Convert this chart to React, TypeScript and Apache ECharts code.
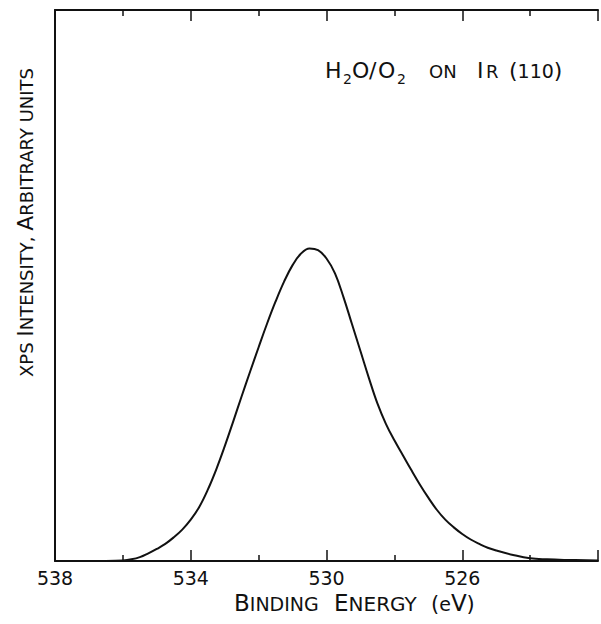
import React, { useEffect, useRef } from "react";
import * as echarts from "echarts";

// Binding energy (eV), read at regular steps from the reference curve
const energies = [
  536.5, 536.0, 535.75, 535.5, 535.25, 535.0, 534.75, 534.5, 534.25, 534.0,
  533.75, 533.5, 533.25, 533.0, 532.75, 532.5, 532.25, 532.0, 531.75, 531.5,
  531.25, 531.0, 530.75, 530.5, 530.25, 530.0, 529.75, 529.5, 529.25, 529.0,
  528.75, 528.5, 528.25, 528.0, 527.75, 527.5, 527.25, 527.0, 526.75, 526.5,
  526.25, 526.0, 525.75, 525.5, 525.25, 525.0, 524.5, 524.0, 523.5, 523.0,
  522.0,
];
// XPS intensity (arbitrary units, 0..100 of the frame height)
const intensities = [
  0, 0.1, 0.3, 0.7, 1.4, 2.2, 3.1, 4.3, 5.7, 7.5,
  9.8, 12.9, 16.6, 20.8, 25.3, 29.9, 34.4, 38.8, 43.1, 47.1,
  50.7, 53.7, 55.8, 56.7, 56.4, 54.9, 52.2, 47.9, 43.0, 38.1,
  33.2, 28.6, 24.9, 21.9, 19.2, 16.5, 13.9, 11.5, 9.3, 7.5,
  6.1, 4.9, 3.9, 3.1, 2.4, 1.9, 1.1, 0.5, 0.3, 0.2,
  0.1,
];
const xTickLabels = [538, 534, 530, 526];

const FONT = "DejaVu Sans";
const INK = "#111111";

type Run = { t: string; s: number; dy?: number; x?: number };

let measureCtx: CanvasRenderingContext2D | null = null;
function textWidth(t: string, s: number): number {
  if (!measureCtx) measureCtx = document.createElement("canvas").getContext("2d");
  if (!measureCtx) return t.length * s * 0.6;
  measureCtx.font = `${s}px "${FONT}"`;
  return measureCtx.measureText(t).width;
}

function runsToTexts(runs: Run[], x0: number, baseline: number): any[] {
  let x = x0;
  const out: any[] = [];
  for (const r of runs) {
    if (r.x !== undefined) x = r.x;
    const by = baseline + (r.dy || 0);
    out.push({
      type: "text",
      x,
      y: by - 0.35 * r.s,
      silent: true,
      style: {
        text: r.t,
        fontSize: r.s,
        fontFamily: FONT,
        fill: INK,
        align: "left",
        verticalAlign: "middle",
      },
    });
    x += textWidth(r.t, r.s);
  }
  return out;
}

const annotationRuns: Run[] = [
  { t: "H", s: 22, x: 325 },
  { t: "2", s: 14, dy: 6, x: 343 },
  { t: "O", s: 22, x: 352 },
  { t: "/", s: 22, x: 369 },
  { t: "O", s: 22, x: 378 },
  { t: "2", s: 14, dy: 6, x: 397 },
  { t: "ON", s: 18, x: 429 },
  { t: "I", s: 22, x: 477 },
  { t: "R", s: 18, x: 486 },
  { t: "(", s: 22, x: 509 },
  { t: "110", s: 19 },
  { t: ")", s: 22 },
];

const xTitleRuns: Run[] = [
  { t: "B", s: 23, x: 234 },
  { t: "INDING", s: 19 },
  { t: "E", s: 23, x: 334 },
  { t: "NERGY", s: 20 },
  { t: "(", s: 21, x: 431 },
  { t: "e", s: 19 },
  { t: "V", s: 23 },
  { t: ")", s: 21 },
];

const yTitleRuns: Run[] = [
  { t: "XPS ", s: 18 },
  { t: "I", s: 22 },
  { t: "NTENSITY, ", s: 18 },
  { t: "A", s: 22 },
  { t: "RBITRARY UNITS", s: 18 },
];

export default function App() {
  const ref = useRef<HTMLDivElement>(null);

  useEffect(() => {
    if (!ref.current) return;
    const chart = echarts.init(ref.current, null, { renderer: "svg" });

    const data = energies.map((e, i) => [e, intensities[i]]);

    const axisCommon = {
      type: "value" as const,
      min: 522,
      max: 538,
      interval: 4,
      inverse: true,
      axisLine: { show: true, lineStyle: { color: INK, width: 2 } },
      axisTick: { show: true, inside: true, length: 11, lineStyle: { color: INK, width: 1.5 } },
      minorTick: { show: true, splitNumber: 2, length: 6, lineStyle: { color: INK, width: 1.5 } },
      splitLine: { show: false },
      minorSplitLine: { show: false },
    };

    chart.setOption({
      animation: false,
      backgroundColor: "#ffffff",
      grid: { left: 55, top: 10, width: 553, height: 551 },
      xAxis: [
        {
          ...axisCommon,
          position: "bottom",
          axisLabel: {
            show: true,
            margin: 7,
            fontSize: 19,
            fontFamily: FONT,
            color: INK,
            formatter: (v: number) => (xTickLabels.includes(Math.round(v)) ? String(Math.round(v)) : ""),
          },
        },
        {
          ...axisCommon,
          position: "top",
          axisLabel: { show: false },
        },
      ],
      yAxis: {
        type: "value",
        min: 0,
        max: 100,
        axisLine: { show: true, lineStyle: { color: INK, width: 2 } },
        axisTick: { show: false },
        axisLabel: { show: false },
        splitLine: { show: false },
      },
      series: [
        {
          type: "line",
          xAxisIndex: 0,
          data,
          symbol: "none",
          smooth: 0.4,
          lineStyle: { color: INK, width: 2 },
        },
      ],
      graphic: [
        ...runsToTexts(annotationRuns, 325, 78),
        ...runsToTexts(xTitleRuns, 234, 611),
        {
          type: "group",
          x: 0,
          y: 377,
          rotation: Math.PI / 2,
          children: runsToTexts(yTitleRuns, 0, 33),
        },
      ],
    });

    return () => chart.dispose();
  }, []);

  return (
    <div
      ref={ref}
      style={{ position: "absolute", left: 0, top: 0, width: 601, height: 624, background: "#fff" }}
    />
  );
}
